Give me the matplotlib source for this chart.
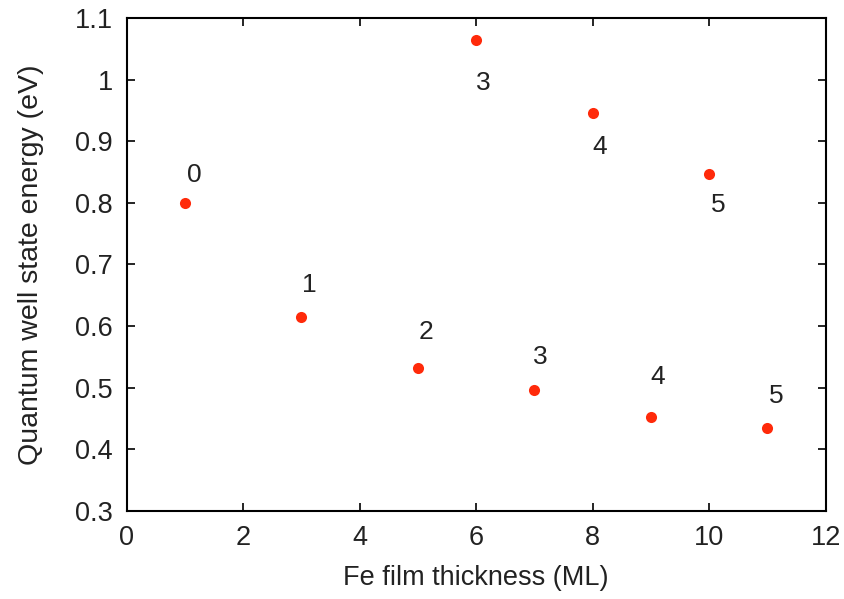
import numpy as np
import matplotlib
matplotlib.use("Agg")
import matplotlib.pyplot as plt

# data
thickness = [1, 3, 5, 6, 7, 8, 9, 10, 11]
energy = [0.800, 0.615, 0.532, 1.065, 0.496, 0.945, 0.453, 0.847, 0.435]
labels = ["0", "1", "2", "3", "3", "4", "4", "5", "5"]

# label offsets in pixels (placement only)
offsets = [(9, 28), (8, 32), (8, 36), (7, -43), (6, 33), (7, -34), (7, 40), (9, -31), (9, 32)]

plt.rcParams['font.family'] = ['Liberation Sans', 'DejaVu Sans']

fig = plt.figure(figsize=(8.45, 5.99), dpi=100)
ax = fig.add_axes([0.150, 0.147, 0.827, 0.823])

ax.plot(thickness, energy, 'o', color='#ff2a0a', markersize=8, markeredgewidth=0)
for x, y, s, (dx, dy) in zip(thickness, energy, labels, offsets):
    ax.annotate(s, (x, y), xytext=(dx * 0.72, dy * 0.72), textcoords='offset points',
                ha='center', va='center', fontsize=19, color='#222222')

ax.set_xlim(0, 12)
ax.set_ylim(0.3, 1.1)
ax.set_xticks(np.arange(0, 13, 2))
ax.set_yticks(np.arange(0.3, 1.11, 0.1))
ax.set_yticklabels(['0.3', '0.4', '0.5', '0.6', '0.7', '0.8', '0.9', '1', '1.1'])
ax.tick_params(direction='in', top=True, right=True, length=6, width=1.2,
               labelsize=19.5, pad=10, labelcolor='#222222')
for sp in ax.spines.values():
    sp.set_linewidth(1.5)

ax.set_xlabel('Fe film thickness (ML)', fontsize=19.5, labelpad=10, color='#222222')
ax.set_ylabel('Quantum well state energy (eV)', fontsize=20.5, labelpad=22, color='#222222')

fig.savefig('out.png', dpi=100)
